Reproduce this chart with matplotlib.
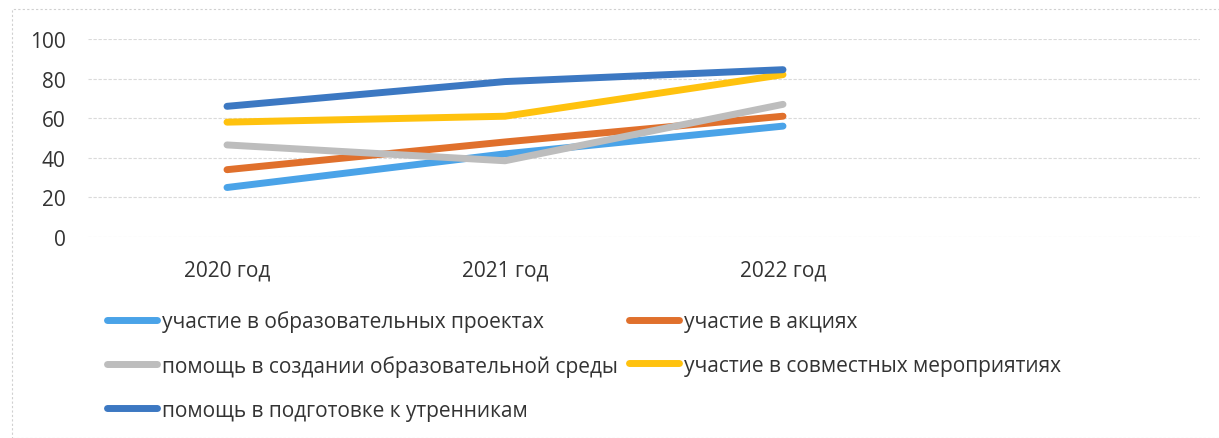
import matplotlib
matplotlib.use("Agg")
import matplotlib.pyplot as plt
from matplotlib.patches import Rectangle

plt.rcParams['font.family'] = ['Open Sans', 'DejaVu Sans']

categories = ["2020 год", "2021 год", "2022 год", ""]
series_names = [
    "участие в образовательных проектах",
    "участие в акциях",
    "помощь в создании образовательной среды",
    "участие в совместных мероприятиях",
    "помощь в подготовке к утренникам",
]
s1 = [25, 42, 56]
s2 = [34, 48, 61]
s3 = [46.5, 38.5, 67]
s4 = [58, 61, 82]
s5 = [66, 78.5, 84.5]
values = [s1, s2, s3, s4, s5]
colors = ["#4aa3e8", "#e0702c", "#bdbdbd", "#ffc20e", "#3c78c2"]
yticks = [0, 20, 40, 60, 80, 100]

fig = plt.figure(figsize=(12.19, 4.39), dpi=100)
ax = fig.add_axes([88/1219, 1-238/439, (1200-88)/1219, (238-40)/439])

x = list(range(len(categories)))
handles = []
for vals, name, c in zip(values, series_names, colors):
    h, = ax.plot(x[:len(vals)], vals, color=c, lw=5, solid_capstyle='round',
                 solid_joinstyle='round', label=name)
    handles.append(h)

ax.set_xlim(-0.5, len(categories) - 0.5)
ax.set_ylim(0, 100)
ax.set_yticks(yticks)
ax.set_xticks(x)
ax.set_xticklabels(categories)
ax.grid(axis='y', color='#dadada', lw=0.8, ls=(0, (3, 1.5)))
ax.set_axisbelow(True)
for sp in ax.spines.values():
    sp.set_visible(False)
ax.tick_params(length=0, labelsize=15, colors='#333333')
ax.tick_params(axis='y', pad=16)
ax.tick_params(axis='x', pad=16)

order = [0, 2, 4, 1, 3]
leg = fig.legend([handles[i] for i in order], [series_names[i] for i in order],
                 ncol=2, loc='upper left', bbox_to_anchor=(107/1219, 1-311/439),
                 frameon=False, fontsize=15, handlelength=2.4, handletextpad=0.25,
                 columnspacing=0.5, labelspacing=1.1, borderaxespad=0, borderpad=0)
for t in leg.get_texts():
    t.set_color('#333333')

fig.patches.append(Rectangle((12/1219, 0), 1.2, 1-10/439, transform=fig.transFigure,
                             fill=False, ec='#d0d0d0', lw=0.8, ls=(0, (2, 2))))

fig.savefig("out.png", dpi=100)
